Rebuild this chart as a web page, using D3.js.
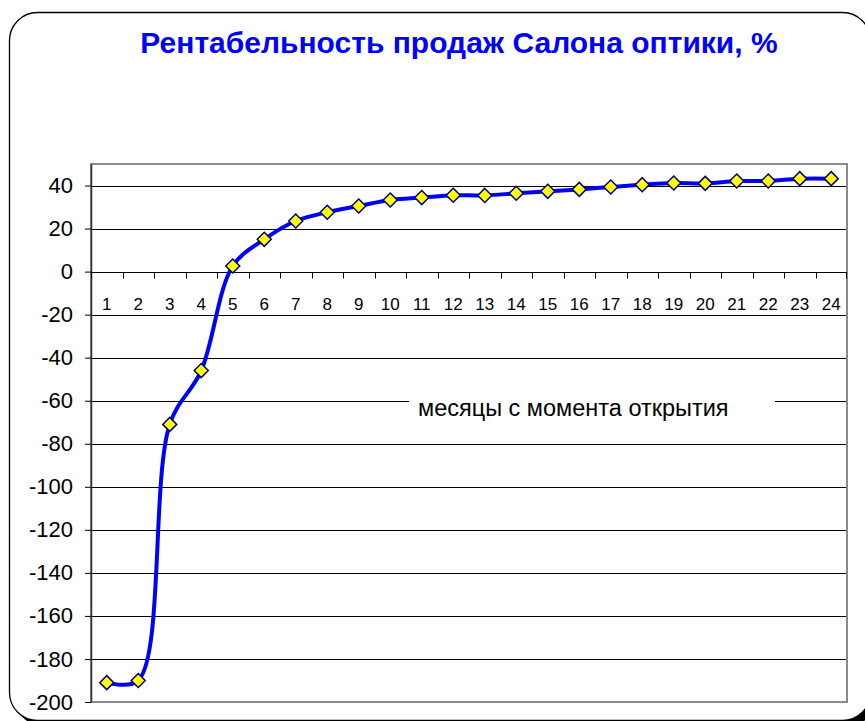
<!DOCTYPE html>
<html>
<head>
<meta charset="utf-8">
<script src="https://cdn.jsdelivr.net/npm/d3@7"></script>
<style>
  body { margin: 0; background: #fff; }
  text { font-family: 'Liberation Sans', Arial, sans-serif; }
</style>
</head>
<body>
<div id="svg_container"></div>
<script>
// months since opening and the margin (%)
var months = d3.range(1, 25)
var margins = [-191, -190, -71, -46, 2.6, 15, 23.5, 27.6, 30.5, 33.3, 34.4, 35.5,
               35.4, 36.4, 37.3, 38.2, 39.3, 40.4, 41.2, 41.0, 42.1, 42.1, 43.2, 43.2]
var yTicks = d3.range(-200, 41, 20)
var title = 'Рентабельность продаж Салона оптики, %'
var xTitle = 'месяцы с момента открытия'

var width = 865, height = 721
var plot = {left: 91, top: 164, right: 847, bottom: 702}

var svg = d3.select('#svg_container')
  .append('svg')
    .attr('width', width)
    .attr('height', height)

// frame with shadow
svg.append('rect')
  .attr('x', 15).attr('y', 18)
  .attr('width', 861).attr('height', 708)
  .attr('rx', 28)
  .attr('fill', '#000')
svg.append('rect')
  .attr('x', 9.5).attr('y', 12.5)
  .attr('width', 861).attr('height', 708)
  .attr('rx', 28)
  .attr('fill', '#fff')
  .attr('stroke', '#000')
  .attr('stroke-width', 1.3)

svg.append('text')
  .attr('x', 459)
  .attr('y', 53)
  .attr('text-anchor', 'middle')
  .attr('fill', '#0000ff')
  .style('font-size', '30px')
  .style('font-weight', 'bold')
  .text(title)

var x = d3.scaleBand().domain(months).range([plot.left, plot.right])
var y = d3.scaleLinear().domain([-200, 50]).range([plot.bottom, plot.top])

// gridlines
svg.append('g')
  .selectAll('line')
  .data(yTicks)
  .enter().append('line')
    .attr('x1', plot.left).attr('x2', plot.right)
    .attr('y1', function(d) { return Math.round(y(d)) + 0.5 })
    .attr('y2', function(d) { return Math.round(y(d)) + 0.5 })
    .attr('stroke', '#000')
    .attr('stroke-width', 1)

// plot border
svg.append('rect')
  .attr('x', plot.left).attr('y', plot.top)
  .attr('width', plot.right - plot.left).attr('height', plot.bottom - plot.top)
  .attr('fill', 'none')
  .attr('stroke', '#8a8a8a')
  .attr('stroke-width', 2)

// y axis
var yAxis = svg.append('g')
  .attr('transform', 'translate(' + plot.left + ',0)')
  .call(d3.axisLeft(y).tickValues(yTicks).tickSize(6).tickPadding(12).tickSizeOuter(0)
    .tickFormat(function(d) { return String(d) }))
yAxis.select('.domain').attr('stroke', '#333').attr('stroke-width', 1.5)
yAxis.selectAll('text').style('font-size', '22px').attr('fill', '#000')
  .style('font-family', "'Liberation Sans', Arial, sans-serif")

// x axis at zero, ticks between categories
var xAxisG = svg.append('g')
  .attr('transform', 'translate(0,' + (Math.round(y(0)) + 0.5) + ')')
xAxisG.append('line')
  .attr('x1', plot.left).attr('x2', plot.right)
  .attr('stroke', '#000')
xAxisG.selectAll('.tick')
  .data(months)
  .enter().append('line')
    .attr('x1', function(d) { return Math.round(x(d)) + 0.5 })
    .attr('x2', function(d) { return Math.round(x(d)) + 0.5 })
    .attr('y1', 0).attr('y2', 6)
    .attr('stroke', '#000')
xAxisG.append('line')
  .attr('x1', plot.right - 0.5).attr('x2', plot.right - 0.5)
  .attr('y1', 0).attr('y2', 6)
  .attr('stroke', '#000')
xAxisG.selectAll('.lbl')
  .data(months)
  .enter().append('text')
    .attr('x', function(d) { return x(d) + x.bandwidth() / 2 })
    .attr('y', 37)
    .attr('text-anchor', 'middle')
    .style('font-size', '17px')
    .text(function(d) { return d })

// axis title with white box over the gridline
svg.append('rect')
  .attr('x', 409).attr('y', 392)
  .attr('width', 366).attr('height', 28)
  .attr('fill', '#fff')
svg.append('text')
  .attr('x', 418)
  .attr('y', 416)
  .style('font-size', '23.5px')
  .text(xTitle)

var pts = months.map(function(m, i) { return [x(m) + x.bandwidth() / 2, y(margins[i])] })

var line = d3.line().curve(d3.curveCatmullRom.alpha(0.5))
svg.append('path')
  .attr('d', line(pts))
  .attr('fill', 'none')
  .attr('stroke', '#0000ff')
  .attr('stroke-width', 4)

svg.append('g')
  .selectAll('path')
  .data(pts)
  .enter().append('path')
    .attr('transform', function(d) { return 'translate(' + d[0] + ',' + d[1] + ')' })
    .attr('d', 'M0,-7L7,0L0,7L-7,0Z')
    .attr('fill', '#ffff00')
    .attr('stroke', '#000080')
    .attr('stroke-width', 1.5)
</script>
</body>
</html>
